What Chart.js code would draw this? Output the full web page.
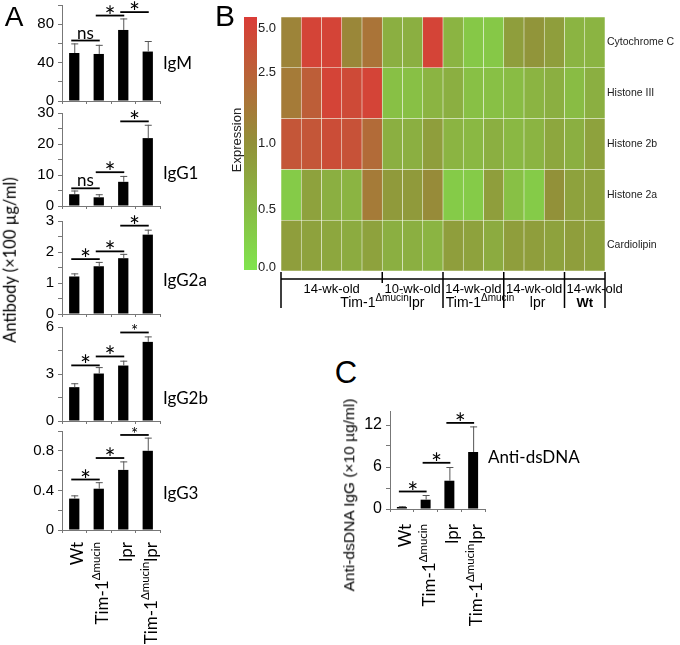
<!DOCTYPE html>
<html>
<head>
<meta charset="utf-8">
<script src="https://cdn.jsdelivr.net/npm/chart.js"></script>
<style>
  body { margin: 0; background: #fff; width: 680px; height: 645px; overflow: hidden; position: relative; }
  canvas { position: absolute; }
  .note { position: absolute; white-space: nowrap; color: #000; }
</style>
</head>
<body>
<script>
// ---- data ----
const groups = ['Wt', 'Tim-1^Δmucin', 'lpr', 'Tim-1^Δmucin^lpr'];

const igmMean = [50, 49, 74, 51.5];
const igmErr = [10, 9.5, 12, 11];
const igmSig = [[0, 1, 63, 'ns'], [1, 2, 89, '*'], [2, 3, 92.6, '*']];

const igg1Mean = [3.8, 2.8, 7.8, 21.9];
const igg1Err = [1.2, 1.0, 1.9, 4.3];
const igg1Sig = [[0, 1, 5.7, 'ns'], [1, 2, 10.9, '*'], [2, 3, 27.3, '*']];

const igg2aMean = [1.21, 1.54, 1.80, 2.56];
const igg2aErr = [0.10, 0.14, 0.14, 0.16];
const igg2aSig = [[0, 1, 1.77, '*'], [1, 2, 2.02, '*'], [2, 3, 2.85, '*']];

const igg2bMean = [2.16, 3.03, 3.54, 5.05];
const igg2bErr = [0.25, 0.41, 0.31, 0.35];
const igg2bSig = [[0, 1, 3.55, '*'], [1, 2, 4.12, '*'], [2, 3, 5.65, '*s']];

const igg3Mean = [0.317, 0.417, 0.607, 0.80];
const igg3Err = [0.033, 0.066, 0.086, 0.133];
const igg3Sig = [[0, 1, 0.51, '*'], [1, 2, 0.727, '*'], [2, 3, 0.96, '*s']];

const dsdnaMean = [0.29, 1.33, 4.04, 8.14];
const dsdnaErr = [0.11, 0.67, 1.96, 3.66];
const dsdnaSig = [[0, 1, 2.5, '*'], [1, 2, 6.6, '*'], [2, 3, 12.3, '*']];

// heatmap: 16 serum samples, 5 antigens
const heatSamples = ['s1', 's2', 's3', 's4', 's5', 's6', 's7', 's8', 's9', 's10', 's11', 's12', 's13', 's14', 's15', 's16'];
const heatRows = ['Cytochrome C', 'Histone III', 'Histone 2b', 'Histone 2a', 'Cardiolipin'];
const cytochromeC = [1.4, 5, 5, 1.3, 1.9, 0.65, 0.65, 5, 0.6, 0.35, 0.35, 0.85, 0.95, 0.85, 0.6, 0.6];
const histoneIII  = [1.7, 2.8, 5, 4.5, 5, 0.45, 0.45, 0.6, 0.65, 0.45, 0.45, 0.5, 0.6, 0.65, 0.5, 0.65];
const histone2b   = [3.5, 3.5, 4.2, 3.8, 2.2, 0.65, 0.65, 0.85, 0.6, 0.55, 0.65, 0.55, 0.6, 0.75, 0.65, 0.8];
const histone2a   = [0.3, 0.8, 0.65, 0.6, 1.7, 0.9, 0.9, 1.2, 0.3, 0.3, 0.85, 0.45, 0.3, 1.0, 0.8, 0.8];
const cardiolipin = [0.85, 0.8, 0.75, 0.7, 0.8, 0.65, 0.65, 0.6, 0.85, 0.8, 0.7, 0.85, 0.85, 0.8, 0.85, 0.8];

const groupTop = ['14-wk-old', '10-wk-old', '14-wk-old', '14-wk-old', '14-wk-old'];
const groupSize = [5, 3, 3, 3, 2];
const joinedGroups = [0];
const groupBottom = ['Tim-1^Δmucin^lpr', 'Tim-1^Δmucin', 'lpr', 'Wt'];
const groupBottomAt = [4.5, 9.33, 12.17, 14.5];

// colour scale
const scaleTicks = [0, 0.5, 1, 2.5, 5];
const scalePos = [0.012, 0.24, 0.5, 0.78, 0.955];
const colorLow = [128, 228, 78], colorMid = [146, 145, 57], colorHigh = [218, 60, 55];

Chart.defaults.font.family = 'Liberation Sans';
Chart.defaults.color = '#000';

function tPos(v) {
  for (let i = 1; i < scaleTicks.length; i++) {
    if (v <= scaleTicks[i]) {
      const f = (v - scaleTicks[i - 1]) / (scaleTicks[i] - scaleTicks[i - 1]);
      return scalePos[i - 1] + f * (scalePos[i] - scalePos[i - 1]);
    }
  }
  return 1;
}
function mix(a, b, f) {
  return 'rgb(' + a.map((c, i) => Math.round(c + (b[i] - c) * f)).join(',') + ')';
}
function cellColor(v) {
  const t = tPos(v);
  return t < 0.5 ? mix(colorLow, colorMid, t / 0.5) : mix(colorMid, colorHigh, (t - 0.5) / 0.5);
}

function note(text, x, y, css, rotate) {
  const d = document.createElement('div');
  d.className = 'note';
  d.textContent = text;
  d.style.cssText += 'left:' + x + 'px;top:' + y + 'px;transform:translate(-50%,-50%)' + (rotate ? ' rotate(-90deg)' : '') + ';' + css;
  document.body.appendChild(d);
}

function addCanvas(left, top, w, h) {
  const cv = document.createElement('canvas');
  cv.width = w; cv.height = h;
  cv.style.left = left + 'px'; cv.style.top = top + 'px';
  cv.style.width = w + 'px'; cv.style.height = h + 'px';
  document.body.appendChild(cv);
  return cv;
}

// label with ^superscript^ parts
function drawRich(ctx, label, x, y, align, big, small, family, weight) {
  const runs = label.split('^').map((t, i) => ({ t: t, s: i % 2 ? small : big, up: i % 2 === 1 }));
  let total = 0;
  runs.forEach(r => {
    ctx.font = (weight || '') + ' ' + r.s + 'px ' + family;
    r.w = ctx.measureText(r.t).width;
    total += r.w;
  });
  let cx = align === 'right' ? x - total : align === 'center' ? x - total / 2 : x;
  ctx.textAlign = 'left';
  ctx.textBaseline = 'alphabetic';
  runs.forEach(r => {
    ctx.font = (weight || '') + ' ' + r.s + 'px ' + family;
    ctx.fillText(r.t, cx, y - (r.up ? big * 0.45 : 0));
    cx += r.w;
  });
}

function drawExtras(chart, o) {
  const ctx = chart.ctx, a = chart.chartArea;
  const xs = chart.scales.x, ys = chart.scales.y;
  const meta = chart.getDatasetMeta(0);
  ctx.save();
  // error bars
  ctx.strokeStyle = '#555';
  ctx.lineWidth = 1;
  meta.data.forEach((bar, i) => {
    const yb = ys.getPixelForValue(o.mean[i]);
    const yt = ys.getPixelForValue(o.mean[i] + o.err[i]);
    ctx.beginPath();
    ctx.moveTo(bar.x + 0.5, yb); ctx.lineTo(bar.x + 0.5, yt);
    ctx.moveTo(bar.x - 3, yt + 0.5); ctx.lineTo(bar.x + 4, yt + 0.5);
    ctx.stroke();
  });
  // significance bars
  ctx.strokeStyle = '#000';
  ctx.fillStyle = '#000';
  ctx.lineWidth = 1.8;
  o.sig.forEach(s => {
    const x1 = xs.getPixelForValue(s[0]) - 3, x2 = xs.getPixelForValue(s[1]) + 1;
    const y = ys.getPixelForValue(s[2]);
    ctx.beginPath(); ctx.moveTo(x1, y); ctx.lineTo(x2, y); ctx.stroke();
    const txt = s[3] === '*s' ? '*' : s[3];
    const size = s[3] === '*s' ? 17 : s[3] === 'ns' ? 17 : 26;
    ctx.font = size + 'px Lato';
    ctx.textAlign = 'center';
    ctx.textBaseline = 'alphabetic';
    const m = ctx.measureText(txt);
    const lift = txt === '*' ? -m.actualBoundingBoxDescent : 0;
    ctx.fillText(txt, (x1 + x2) / 2, y - 2 + lift);
  });
  // isotype name
  ctx.font = '17px Lato';
  ctx.textAlign = 'left';
  ctx.textBaseline = 'middle';
  ctx.fillText(o.name, a.right + 3, a.top + o.nameFrac * (a.bottom - a.top));
  // category labels, rotated
  if (o.showX) {
    ctx.fillStyle = '#000';
    groups.forEach((g, i) => {
      const x = xs.getPixelForValue(i);
      ctx.save();
      ctx.translate(x, a.bottom + o.xLabelGap);
      ctx.rotate(-Math.PI / 2);
      drawRich(ctx, g, 0, 9, 'right', 17, 11.5, 'Lato');
      ctx.restore();
    });
  }
  ctx.restore();
}

function barChart(o) {
  const padTop = 18, xh = 10;
  const top = o.plotTop - padTop;
  const h = o.plotBottom - top + xh + o.padBottom;
  const cv = addCanvas(o.left, top, o.width, h);
  return new Chart(cv, {
    type: 'bar',
    data: {
      labels: groups,
      datasets: [{ data: o.mean, backgroundColor: '#000', barPercentage: 0.42, categoryPercentage: 1 }]
    },
    options: {
      responsive: false, animation: false, devicePixelRatio: 1,
      layout: { padding: { top: padTop, right: o.width - o.axisW - o.plotW, bottom: o.padBottom, left: 0 } },
      plugins: { legend: { display: false }, tooltip: { enabled: false } },
      scales: {
        x: {
          offset: true,
          grid: { offset: true, drawOnChartArea: false, tickLength: 3, color: '#777' },
          border: { color: '#777' },
          ticks: { display: false },
          afterFit: s => { s.height = xh; }
        },
        y: {
          min: 0, max: o.max,
          grid: { drawOnChartArea: false, tickLength: 4, color: '#777' },
          border: { color: '#777' },
          afterBuildTicks: s => {
            const t = [];
            for (let k = 0; k * o.step <= o.max + 1e-9; k++) t.push({ value: +(k * o.step).toFixed(4) });
            s.ticks = t;
          },
          ticks: {
            autoSkip: false, padding: 4, color: '#000',
            font: { size: o.tickSize },
            callback: v => {
              const r = v / o.labelStep;
              return Math.abs(r - Math.round(r)) < 1e-6 ? String(+v.toFixed(2)) : '';
            }
          },
          afterFit: s => { s.width = o.axisW; }
        }
      }
    },
    plugins: [{ id: 'extras', afterDatasetsDraw: c => drawExtras(c, o) }]
  });
}

// ---- panel A ----
const colA = { left: 0, width: 225, axisW: 62, plotW: 98, tickSize: 15, padBottom: 0, xLabelGap: 12 };
barChart(Object.assign({}, colA, { mean: igmMean, err: igmErr, sig: igmSig, name: 'IgM', nameFrac: 0.61,
  plotTop: 5, plotBottom: 104, max: 100, step: 20, labelStep: 40 }));
barChart(Object.assign({}, colA, { mean: igg1Mean, err: igg1Err, sig: igg1Sig, name: 'IgG1', nameFrac: 0.65,
  plotTop: 113, plotBottom: 209, max: 30, step: 5, labelStep: 10 }));
barChart(Object.assign({}, colA, { mean: igg2aMean, err: igg2aErr, sig: igg2aSig, name: 'IgG2a', nameFrac: 0.64,
  plotTop: 221, plotBottom: 317, max: 3, step: 0.5, labelStep: 1 }));
barChart(Object.assign({}, colA, { mean: igg2bMean, err: igg2bErr, sig: igg2bSig, name: 'IgG2b', nameFrac: 0.76,
  plotTop: 327, plotBottom: 424, max: 6, step: 1.5, labelStep: 3 }));
barChart(Object.assign({}, colA, { mean: igg3Mean, err: igg3Err, sig: igg3Sig, name: 'IgG3', nameFrac: 0.63,
  plotTop: 431, plotBottom: 530, max: 1, step: 0.2, labelStep: 0.4, showX: true, padBottom: 112 }));

// ---- panel C ----
barChart({ left: 340, width: 255, axisW: 50, plotW: 95, tickSize: 16, padBottom: 126, xLabelGap: 15,
  mean: dsdnaMean, err: dsdnaErr, sig: dsdnaSig, name: 'Anti-dsDNA', nameFrac: 0.47,
  plotTop: 411, plotBottom: 509, max: 14, step: 3, labelStep: 6, showX: true });

// ---- panel B: heatmap ----
const rowData = [cytochromeC, histoneIII, histone2b, histone2a, cardiolipin];
const heatCanvas = addCanvas(200, 0, 480, 320);
new Chart(heatCanvas, {
  type: 'bar',
  data: {
    labels: heatSamples,
    datasets: rowData.slice().reverse().map(vals => ({
      data: vals.map(() => 1),
      backgroundColor: vals.map(cellColor),
      borderColor: 'rgba(235,245,215,0.28)',
      borderWidth: 0.6,
      borderSkipped: false,
      barPercentage: 1,
      categoryPercentage: 1
    }))
  },
  options: {
    responsive: false, animation: false, devicePixelRatio: 1,
    layout: { padding: { left: 81, top: 17, right: 75, bottom: 49 } },
    plugins: { legend: { display: false }, tooltip: { enabled: false } },
    scales: {
      x: { display: false, stacked: true, offset: true },
      y: { display: false, stacked: true, min: 0, max: 5 }
    }
  },
  plugins: [{
    id: 'heatLabels',
    afterDatasetsDraw(chart) {
      const ctx = chart.ctx, a = chart.chartArea;
      const xs = chart.scales.x, ys = chart.scales.y;
      ctx.save();
      ctx.fillStyle = '#222';
      ctx.font = '10.5px Liberation Sans';
      ctx.textAlign = 'left';
      ctx.textBaseline = 'middle';
      heatRows.forEach((r, i) => ctx.fillText(r, a.right + 2, ys.getPixelForValue(4.5 - i)));
      // bracket
      ctx.strokeStyle = '#000';
      ctx.lineWidth = 1.5;
      const lineY = a.bottom + 8;
      ctx.beginPath();
      ctx.moveTo(a.left, lineY); ctx.lineTo(a.right, lineY);
      ctx.moveTo(a.left, a.bottom + 1); ctx.lineTo(a.left, a.bottom + 37);
      let start = 0;
      const bounds = [];
      groupSize.forEach((n, g) => {
        const gl = xs.getPixelForValue(start - 0.5);
        const gr = xs.getPixelForValue(start + n - 0.5);
        bounds.push([gl, gr]);
        const short = joinedGroups.indexOf(g) >= 0;
        ctx.moveTo(gr, a.bottom + 1); ctx.lineTo(gr, a.bottom + (short ? 12 : 37));
        start += n;
      });
      ctx.stroke();
      ctx.fillStyle = '#000';
      ctx.font = '13px Liberation Sans';
      ctx.textBaseline = 'middle';
      groupTop.forEach((t, g) => {
        const w = ctx.measureText(t).width;
        const [gl, gr] = bounds[g];
        const x = Math.max(gl + 2, (gl + gr) / 2 - w / 2);
        ctx.fillText(t, x, a.bottom + 18);
      });
      groupBottom.forEach((t, i) => {
        drawRich(ctx, t, xs.getPixelForValue(groupBottomAt[i]), a.bottom + 36, 'center', t === 'Wt' ? 13 : 14, 10,
          'Liberation Sans', t === 'Wt' ? 'bold' : '');
      });
      ctx.restore();
    }
  }]
});

// colour bar
const barCanvas = addCanvas(228, 0, 56, 290);
new Chart(barCanvas, {
  type: 'bar',
  data: {
    labels: ['Expression'],
    datasets: [{
      data: [1],
      barPercentage: 1, categoryPercentage: 1,
      backgroundColor: c => {
        const a = c.chart.chartArea;
        if (!a) return mix(colorMid, colorMid, 0);
        const g = c.chart.ctx.createLinearGradient(0, a.bottom, 0, a.top);
        g.addColorStop(0, mix(colorLow, colorLow, 0));
        g.addColorStop(0.5, mix(colorMid, colorMid, 0));
        g.addColorStop(1, mix(colorHigh, colorHigh, 0));
        return g;
      }
    }]
  },
  options: {
    responsive: false, animation: false, devicePixelRatio: 1,
    layout: { padding: { left: 16, top: 17, right: 0, bottom: 20 } },
    plugins: { legend: { display: false }, tooltip: { enabled: false } },
    scales: {
      x: { display: false },
      y: {
        position: 'right', min: 0, max: 1,
        grid: { display: false, drawTicks: false },
        border: { display: false },
        afterBuildTicks: s => { s.ticks = scaleTicks.map(v => ({ value: tPos(v) })); },
        ticks: { autoSkip: false, padding: 1, color: '#222', font: { size: 13 },
          callback: (v, i) => scaleTicks[i].toFixed(1) },
        afterFit: s => { s.width = 27; }
      }
    }
  },
  plugins: [{
    id: 'barTitle',
    afterDraw(chart) {
      const ctx = chart.ctx, a = chart.chartArea;
      ctx.save();
      ctx.translate(a.left - 7, 140);
      ctx.rotate(-Math.PI / 2);
      ctx.fillStyle = '#222';
      ctx.font = '13px Liberation Sans';
      ctx.textAlign = 'center';
      ctx.textBaseline = 'middle';
      ctx.fillText('Expression', 0, 0);
      ctx.restore();
    }
  }]
});

// panel letters and axis titles
note('A', 14, 17, 'font:28px "Liberation Sans";line-height:1;');
note('B', 225, 16, 'font:30px "Liberation Sans";line-height:1;');
note('C', 346, 372, 'font:31px "Liberation Sans";line-height:1;');
note('Antibody (×100 µg/ml)', 10, 260, 'font:16.5px Lato;line-height:1;', true);
note('Anti-dsDNA IgG (×10 µg/ml)', 349, 495, 'font:15.5px "Liberation Sans";line-height:1;', true);
</script>
</body>
</html>
